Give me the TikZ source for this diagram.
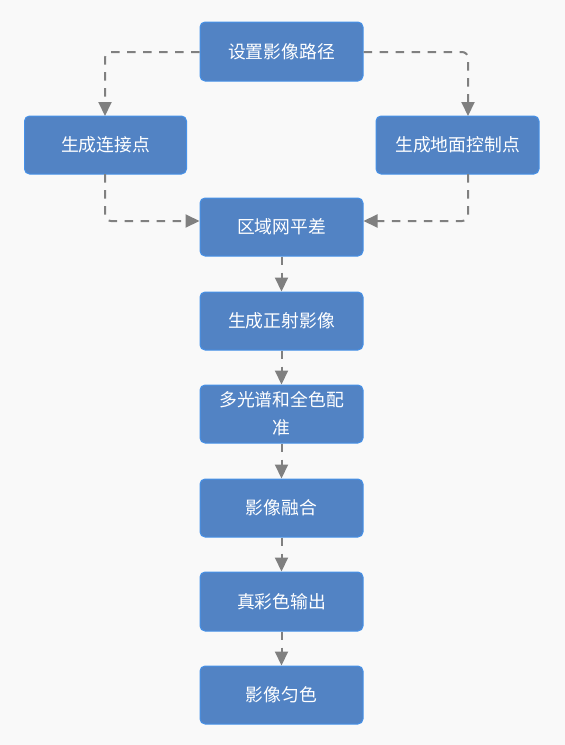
\documentclass[tikz,border=0pt]{standalone}
\usepackage{fontspec}
\newfontfamily\cjk{Noto Sans CJK SC}
\usetikzlibrary{arrows.meta,calc}
\definecolor{bgc}{RGB}{249,249,249}
\definecolor{boxfill}{RGB}{82,131,196}
\definecolor{boxline}{RGB}{70,145,232}
\definecolor{conn}{RGB}{128,128,128}
\tikzset{
  stepbox/.style={draw=boxline, fill=boxfill, line width=1pt, rounded corners=5pt,
    minimum width=163pt, minimum height=58pt, inner sep=0pt, text=white,
    font=\cjk\fontsize{17.8pt}{28pt}\selectfont, align=center},
  flow/.style={draw=conn, line width=2pt, dash pattern=on 8.5pt off 7.5pt,
    -{Triangle[width=13pt,length=14pt]}, rounded corners=6pt}
}
\begin{document}
\begin{tikzpicture}[x=1pt,y=-1pt]
\fill[bgc] (0,0) rectangle (565,745);
\useasboundingbox (0,0) rectangle (565,745);
\node[stepbox, minimum height=59pt] (b1) at (281.5,51.5) {设置影像路径};
\node[stepbox, minimum width=162pt] (l) at (105.5,145) {生成连接点};
\node[stepbox] (r) at (457.5,145) {生成地面控制点};
\node[stepbox] (b2) at (281.5,227) {区域网平差};
\node[stepbox] (b3) at (281.5,321) {生成正射影像};
\node[stepbox] (b4) at (281.5,414) {多光谱和全色配\\准};
\node[stepbox] (b5) at (281.5,508) {影像融合};
\node[stepbox, minimum height=59pt] (b6) at (281.5,601.5) {真彩色输出};
\node[stepbox] (b7) at (281.5,695) {影像匀色};
\coordinate (b1L) at (b1.west |- 0,52);
\coordinate (b1R) at (b1.east |- 0,52);
\coordinate (lT) at (105,116);
\coordinate (rT) at (468,116);
\coordinate (lB) at (105,174);
\coordinate (rB) at (468,174);
\coordinate (b2L) at (b2.west |- 0,221);
\coordinate (b2R) at (b2.east |- 0,221);
\draw[flow] (b1L) -| (lT);
\draw[flow] (b1R) -| (rT);
\draw[flow] (lB) |- (b2L);
\draw[flow] (rB) |- (b2R);
\draw[flow] (b2.south) -- (b3.north);
\draw[flow] (b3.south) -- (b4.north);
\draw[flow] (b4.south) -- (b5.north);
\draw[flow] (b5.south) -- (b6.north);
\draw[flow] (b6.south) -- (b7.north);
\end{tikzpicture}
\end{document}
